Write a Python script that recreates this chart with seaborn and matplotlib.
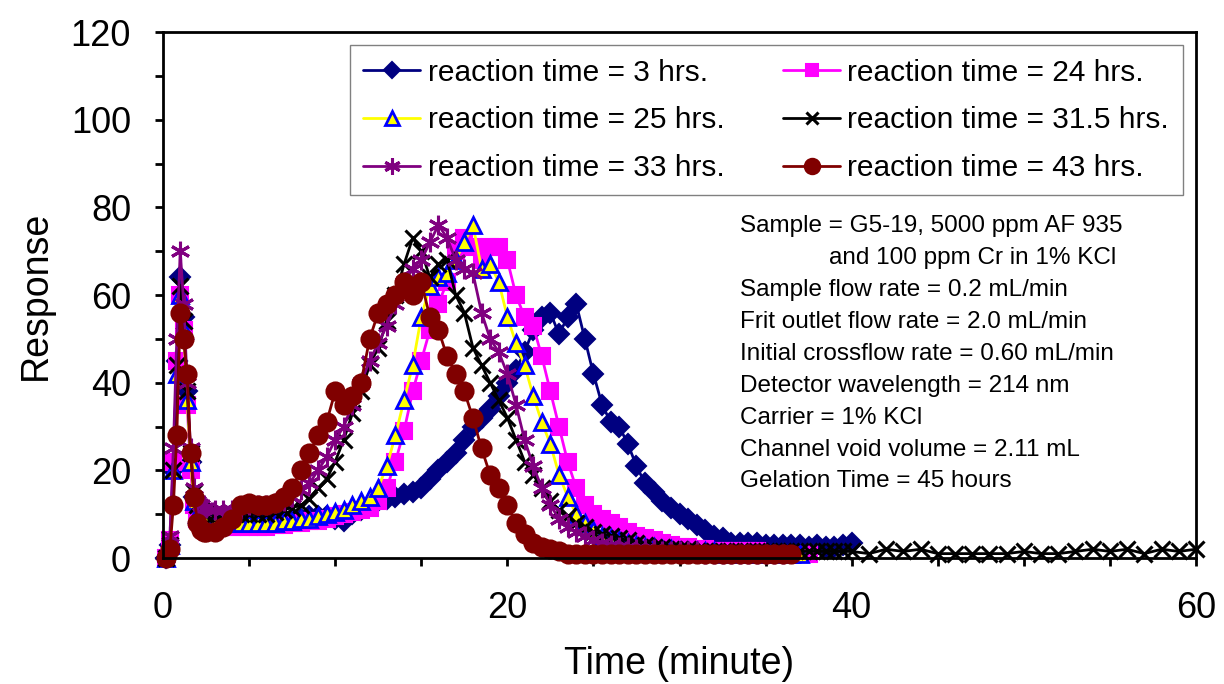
import numpy as np
import matplotlib
matplotlib.use("Agg")
import matplotlib.pyplot as plt
from matplotlib.ticker import MultipleLocator
import seaborn as sns

# ---------------- data ----------------
spike_time = [0.2, 0.4, 0.6, 0.8, 1.0, 1.2, 1.4, 1.6, 1.8, 2.0, 2.2, 2.4]
main_time = np.arange(2.5, 40.01, 0.5)
tail_time = np.arange(41.0, 60.01, 1.0)

labels = ["reaction time = 3 hrs.", "reaction time = 24 hrs.", "reaction time = 25 hrs.",
          "reaction time = 31.5 hrs.", "reaction time = 33 hrs.", "reaction time = 43 hrs."]

spike_3 = [0, 3, 20, 45, 64, 55, 38, 22, 14, 11, 10, 9.5]
main_3 = [9.5, 9, 9, 9, 9, 9, 9, 9, 9, 9, 9, 9, 9.5, 9.5, 9.5, 9, 8.5, 10, 11, 12,
          13, 13.5, 14, 14.5, 15, 16, 18, 20, 22, 24, 27, 30, 32, 34, 37, 40, 43, 47, 52, 55,
          56, 51, 55, 58, 50, 42, 35, 31, 30, 26, 21, 17, 15, 13, 11.5, 10, 9, 7.5, 6.5, 5,
          4.5, 3.5, 3.5, 3.5, 3.5, 3, 3, 3, 3, 3, 2.5, 3, 2.5, 2.5, 3, 3.5]

spike_24 = [0, 4, 22, 45, 60, 52, 35, 20, 12, 9, 8, 7.5]
main_24 = [7.5, 7, 7, 7, 7, 7, 7, 7, 7.5, 7.5, 8, 8, 8.5, 8.5, 9, 9.5, 10, 10.5, 11, 11.5,
           13, 16, 22, 29, 38, 45, 52, 58, 63, 70, 73, 71, 68, 71, 71, 68, 60, 55, 53, 46,
           38, 30, 22, 16, 12, 10, 9, 8, 7, 6, 5, 4.5, 4, 3.5, 3, 2.5, 2.5, 2, 2, 1.5,
           1.5, 1.5, 1.5, 1.5, 1.5, 1, 1, 1, 1, 1, 1]

spike_25 = [0, 3, 20, 42, 60, 52, 36, 22, 13, 10, 9, 8.5]
main_25 = [8.5, 8.5, 8, 8, 8, 8, 8, 8, 8, 8.5, 8.5, 9, 9, 9.5, 10, 10.5, 11, 12, 13, 14,
           16, 21, 28, 36, 44, 55, 62, 64, 65, 68, 72, 76, 66, 67, 63, 55, 49, 44, 37, 31,
           26, 19, 14, 10, 8, 6.5, 5, 4.5, 4, 3.5, 3, 2.5, 2.5, 2, 2, 1.5, 1.5, 1.5, 1.5, 1.5,
           1, 1, 1, 1, 1, 1, 1, 1, 1, 1]

spike_315 = [0, 3, 20, 44, 62, 54, 38, 24, 15, 12, 11, 10]
main_315 = [10, 10, 10, 10, 10, 10, 10, 10, 10.5, 11, 11.5, 12, 13.5, 16, 18, 22, 27, 33, 38, 44,
            48, 54, 60, 67, 73, 70, 64, 67, 68, 60, 56, 48, 44, 40, 36, 32, 27, 22, 19, 16,
            13, 11, 9.5, 8, 7, 6, 5.5, 5, 4.5, 4, 3.5, 3, 2.5, 2.5, 2, 2, 2, 1.5, 1.5, 1.5,
            1.5, 1.5, 1.5, 1.5, 1.5, 1.5, 1.5, 1.5, 1.5, 1.5, 1.5, 1.5, 1.5, 1.5, 1.5, 1.5]
tail_315 = [1, 2, 1.5, 2, 1, 1, 1, 1, 1, 1.5, 1, 1, 1.5, 2, 1.5, 2, 1, 2, 1.5, 2]

spike_33 = [0, 5, 25, 50, 70, 58, 40, 25, 16, 13, 12, 11.5]
main_33 = [11.5, 11, 11, 11, 11.5, 12, 12, 12, 12.5, 13, 14, 15.5, 17, 20, 23, 27, 30, 35, 40, 45,
           49, 53, 58, 63, 66, 68, 72, 76, 73, 68, 66, 65, 56, 50, 47, 42, 35, 27, 21, 16,
           12, 9, 7, 6, 5, 4, 3.5, 3, 2.5, 2.5, 2, 2, 2, 1.5, 1.5, 1.5, 1.5, 1.5, 1, 1,
           1, 1, 1, 1, 1, 1, 1, 1]

spike_43 = [0, 2, 12, 28, 56, 50, 42, 24, 14, 8, 6.5, 6]
main_43 = [6, 6, 7, 9, 12, 12.5, 12, 12, 12.5, 14, 16, 20, 24, 28, 31, 38, 35, 37, 40, 50,
           56, 58, 60, 63, 60, 63, 55, 52, 46, 42, 38, 32, 25, 19, 16, 12, 8, 5.5, 3.5, 2.5,
           2, 1.5, 1, 1, 1, 1, 1, 1, 1, 1, 1, 1, 1, 1, 1, 1, 1, 1, 1, 1,
           1, 1, 1, 1, 1, 1, 1, 1, 1]

notes = ["Sample = G5-19, 5000 ppm AF 935",
         "and 100 ppm Cr in 1% KCl",
         "Sample flow rate = 0.2 mL/min",
         "Frit outlet flow rate = 2.0 mL/min",
         "Initial crossflow rate = 0.60 mL/min",
         "Detector wavelength = 214 nm",
         "Carrier = 1% KCl",
         "Channel void volume = 2.11 mL",
         "Gelation Time = 45 hours"]


def series(spike, main, tail=None):
    t = list(spike_time) + list(main_time[:len(main)])
    r = list(spike) + list(main)
    if tail is not None:
        t += list(tail_time[:len(tail)])
        r += list(tail)
    return np.array(t), np.array(r)


# ---------------- style ----------------
sns.set_style("ticks")
plt.rcParams["font.family"] = ["Liberation Sans", "DejaVu Sans"]
for k in ["text.color", "axes.labelcolor", "xtick.color", "ytick.color"]:
    plt.rcParams[k] = "black"

fig = plt.figure(figsize=(12.24, 6.84), dpi=100)
ax = fig.add_axes([0.1332, 0.1842, 0.8439, 0.7690])

asterisk = (6, 2, 0)
styles = [
    dict(color="#000080", marker="D", ms=10, mfc="#000080", mec="#000080", mew=1.5),
    dict(color="#FF00FF", marker="s", ms=11, mfc="#FF00FF", mec="#FF00FF", mew=1.5),
    dict(color="#FFFF00", marker="^", ms=12, mfc="#FFFF00", mec="#0000FF", mew=2.0),
    dict(color="#000000", marker="x", ms=11, mfc="#000000", mec="#000000", mew=2.2),
    dict(color="#800080", marker=asterisk, ms=14, mfc="#800080", mec="#800080", mew=2.2),
    dict(color="#800000", marker="o", ms=13, mfc="#800000", mec="#800000", mew=1.5),
]
data = [series(spike_3, main_3), series(spike_24, main_24), series(spike_25, main_25),
        series(spike_315, main_315, tail_315), series(spike_33, main_33), series(spike_43, main_43)]

for (t, r), lab, st in zip(data, labels, styles):
    sns.lineplot(x=t, y=r, ax=ax, label=lab, estimator=None, sort=False,
                 color=st["color"], linewidth=2.0, marker=st["marker"],
                 markersize=st["ms"], markerfacecolor=st["mfc"],
                 markeredgecolor=st["mec"], markeredgewidth=st["mew"], clip_on=False)

ax.set_xlim(0, 60)
ax.set_ylim(0, 120)
ax.xaxis.set_major_locator(MultipleLocator(20))
ax.xaxis.set_minor_locator(MultipleLocator(5))
ax.yaxis.set_major_locator(MultipleLocator(20))
ax.yaxis.set_minor_locator(MultipleLocator(10))
ax.tick_params(which="both", direction="out", length=6, width=2.0, color="black")
ax.tick_params(axis="x", which="major", labelsize=26, pad=18, labelcolor="black")
ax.tick_params(axis="y", which="major", labelsize=26, pad=17, labelcolor="black")
for sp in ax.spines.values():
    sp.set_visible(True)
    sp.set_linewidth(2.0)
    sp.set_color("black")

ax.set_xlabel("Time (minute)", fontsize=27, labelpad=14, color="black")
ax.set_ylabel("Response", fontsize=27, labelpad=12, color="black")

handles, labs = ax.get_legend_handles_labels()
order = [0, 2, 4, 1, 3, 5]
leg = ax.legend([handles[i] for i in order], [labs[i] for i in order], ncol=2,
                loc="upper left", bbox_to_anchor=(0.181, 0.694, 0.806, 0.281),
                mode="expand", borderaxespad=0, fontsize=21.5, frameon=True,
                fancybox=False, framealpha=1, edgecolor="#808080",
                handlelength=1.9, handletextpad=0.25, columnspacing=2.0,
                labelspacing=0.66, borderpad=0.45)
leg.get_frame().set_linewidth(1.0)
for line in leg.get_lines():
    line.set_markersize(line.get_markersize() * 0.85)

y0, dy = 75.7, 7.28
for i, s in enumerate(notes):
    x = 38.7 if i == 1 else 33.5
    ax.text(x, y0 - i * dy, s, fontsize=17.5, ha="left", va="center", color="black")

fig.savefig("out.png", dpi=100)
